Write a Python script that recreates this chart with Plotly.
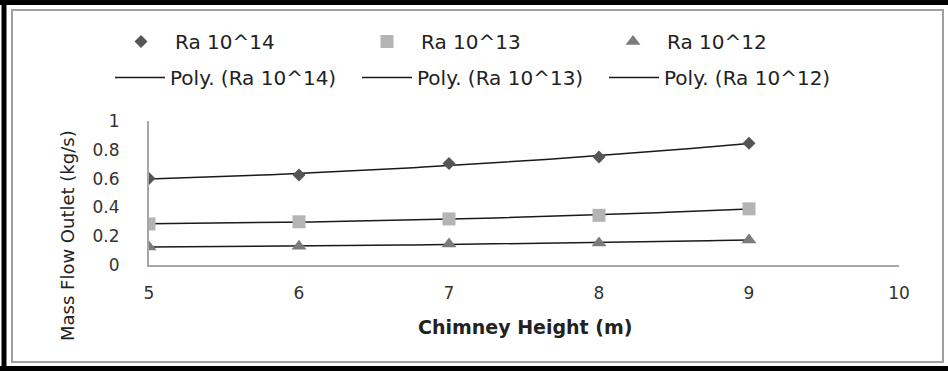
import numpy as np
import plotly.graph_objects as go

# Chimney height (m) and mass flow at the outlet (kg/s) for three Rayleigh numbers
heights = [5, 6, 7, 8, 9]
ra14 = [0.60, 0.625, 0.705, 0.75, 0.845]
ra13 = [0.285, 0.30, 0.32, 0.345, 0.39]
ra12 = [0.125, 0.13, 0.145, 0.153, 0.174]

series_names = ["Ra 10^14", "Ra 10^13", "Ra 10^12"]
x_ticks = [5, 6, 7, 8, 9, 10]
y_ticks = [0, 0.2, 0.4, 0.6, 0.8, 1]
y_tick_text = ["0", "0.2", "0.4", "0.6", "0.8", "1"]

W, H = 948, 371
ML, MR, MT, MB = 149, 49, 121, 106

symbols = ["diamond", "square", "triangle-up"]
colors = ["#555555", "#b4b4b4", "#7b7b7b"]
sizes = [10, 13, 13]

fig = go.Figure()

# Second-order polynomial trend lines fitted to each series
xs = np.linspace(min(heights), max(heights), 60)
for name, vals in zip(series_names, [ra14, ra13, ra12]):
    coef = np.polyfit(heights, vals, 2)
    fig.add_trace(go.Scatter(
        x=xs, y=np.polyval(coef, xs), mode="lines",
        line=dict(color="#1a1a1a", width=1.5),
        name=f"Poly. ({name})", legend="legend2", hoverinfo="skip",
    ))

# Measured points
for name, vals, sym, col, sz in zip(series_names, [ra14, ra13, ra12], symbols, colors, sizes):
    fig.add_trace(go.Scatter(
        x=heights, y=vals, mode="markers", name=name, legend="legend",
        marker=dict(symbol=sym, color=col, size=sz, line=dict(width=0)),
    ))


def px_x(p):
    return (p - ML) / (W - ML - MR)


def px_y(p):
    return (H - MB - p) / (H - MT - MB)


font_main = "DejaVu Sans"

fig.update_layout(
    width=W, height=H,
    margin=dict(l=ML, r=MR, t=MT, b=MB, autoexpand=False),
    paper_bgcolor="white", plot_bgcolor="white",
    showlegend=True,
    legend=dict(
        orientation="h", xref="container", yref="container",
        x=107 / W, y=1 - 22 / H, xanchor="left", yanchor="top",
        entrywidth=173, itemwidth=58, traceorder="normal",
        font=dict(family=font_main, size=20, color="#222222"),
        bgcolor="rgba(0,0,0,0)",
    ),
    legend2=dict(
        orientation="h", xref="container", yref="container",
        x=110 / W, y=1 - 58 / H, xanchor="left", yanchor="top",
        entrywidth=182, itemwidth=50, traceorder="normal",
        font=dict(family=font_main, size=20, color="#222222"),
        bgcolor="rgba(0,0,0,0)",
    ),
    xaxis=dict(
        range=[5, 10], tickvals=x_ticks, showgrid=False, zeroline=False,
        showline=True, linecolor="#a6a6a6", linewidth=2, ticks="",
        ticklabelstandoff=12,
        tickfont=dict(family=font_main, size=17, color="#333333"),
    ),
    yaxis=dict(
        range=[0, 1], tickvals=y_ticks, ticktext=y_tick_text, showgrid=False,
        zeroline=False, showline=True, linecolor="#a6a6a6", linewidth=2,
        ticks="", ticklabelstandoff=24,
        tickfont=dict(family=font_main, size=17, color="#333333"),
    ),
    annotations=[
        dict(text="Chimney Height (m)", xref="paper", yref="paper",
             x=px_x(525), y=px_y(327), xanchor="center", yanchor="middle",
             showarrow=False,
             font=dict(family=font_main, size=19, color="#222222", weight="bold")),
        dict(text="Mass Flow Outlet (kg/s)", xref="paper", yref="paper",
             x=px_x(67), y=px_y(236), xanchor="center", yanchor="middle",
             showarrow=False, textangle=-90,
             font=dict(family=font_main, size=18, color="#222222")),
    ],
    shapes=[
        # outer black frame (left, top, bottom)
        dict(type="line", xref="paper", yref="paper", x0=px_x(4), x1=px_x(4),
             y0=px_y(0), y1=px_y(371), line=dict(color="black", width=5)),
        dict(type="line", xref="paper", yref="paper", x0=px_x(0), x1=px_x(948),
             y0=px_y(2.5), y1=px_y(2.5), line=dict(color="black", width=5)),
        dict(type="line", xref="paper", yref="paper", x0=px_x(0), x1=px_x(948),
             y0=px_y(368.5), y1=px_y(368.5), line=dict(color="black", width=5)),
        # inner grey chart border
        dict(type="rect", xref="paper", yref="paper", x0=px_x(12), x1=px_x(943),
             y0=px_y(10), y1=px_y(362), line=dict(color="#a0a0a0", width=2)),
    ],
)

fig.write_html("out.html")
